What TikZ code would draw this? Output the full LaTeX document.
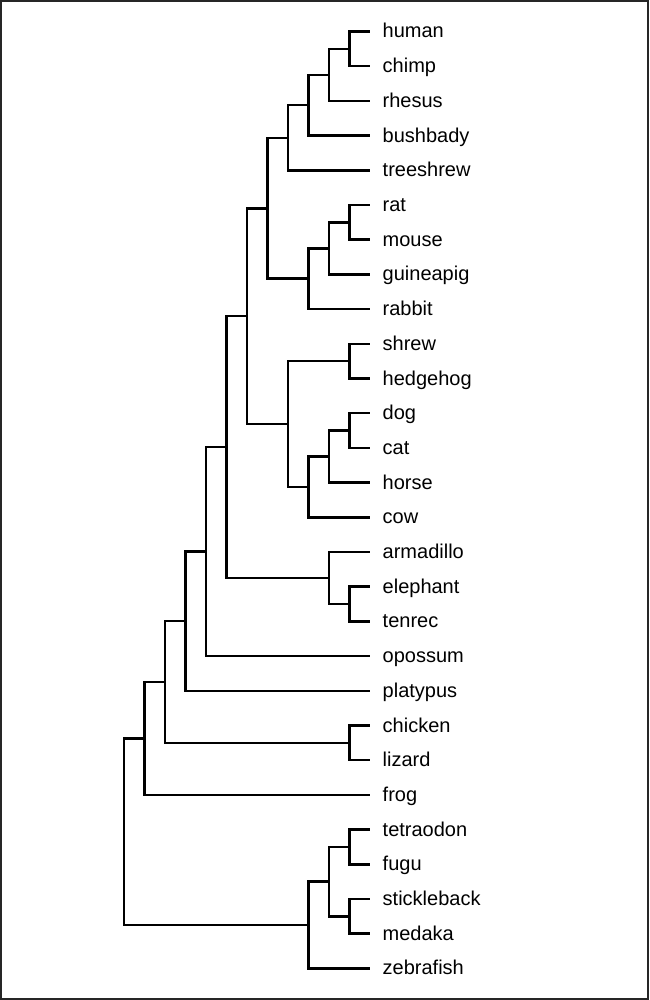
\documentclass[tikz,border=0pt]{standalone}
\usepackage{fontspec}
\setmainfont{Liberation Sans}
\usetikzlibrary{calc}
\tikzset{
  branch/.style={line width=2.5pt, draw=black, line join=miter},
  leaflabel/.style={anchor=base west, inner sep=0pt, font=\fontsize{20pt}{24pt}\selectfont, text=black},
  frame/.style={line width=2pt, draw=black!85}
}
\newcommand\leafy[1]{\fpeval{-(31.5+34.7*#1)}}
\newcommand\mkleaf[2]{%
  \coordinate (#1) at (370pt,{\leafy{#2}*1pt});
  \node[leaflabel] (lab-#1) at (382.5pt,{(\leafy{#2}-6.5)*1pt}) {#1};
}
\newcommand\clade[4]{%
  \path let \p1=($(#3)!0.5!(#4)$) in ({(370-20.5*#2)*1pt},\y1) coordinate (#1);
  \draw[branch] (#1) |- (#3);
  \draw[branch] (#1) |- (#4);
}
\begin{document}
\begin{tikzpicture}
\useasboundingbox (0pt,0pt) rectangle (649pt,-1000pt);
\draw[frame] (1pt,-1pt) rectangle (648pt,-999pt);
\mkleaf{human}{0}
\mkleaf{chimp}{1}
\mkleaf{rhesus}{2}
\mkleaf{bushbady}{3}
\mkleaf{treeshrew}{4}
\mkleaf{rat}{5}
\mkleaf{mouse}{6}
\mkleaf{guineapig}{7}
\mkleaf{rabbit}{8}
\mkleaf{shrew}{9}
\mkleaf{hedgehog}{10}
\mkleaf{dog}{11}
\mkleaf{cat}{12}
\mkleaf{horse}{13}
\mkleaf{cow}{14}
\mkleaf{armadillo}{15}
\mkleaf{elephant}{16}
\mkleaf{tenrec}{17}
\mkleaf{opossum}{18}
\mkleaf{platypus}{19}
\mkleaf{chicken}{20}
\mkleaf{lizard}{21}
\mkleaf{frog}{22}
\mkleaf{tetraodon}{23}
\mkleaf{fugu}{24}
\mkleaf{stickleback}{25}
\mkleaf{medaka}{26}
\mkleaf{zebrafish}{27}
% internal nodes
\clade{hc}{1}{human}{chimp}
\clade{catar}{2}{hc}{rhesus}
\clade{prim}{3}{catar}{bushbady}
\clade{euarA}{4}{prim}{treeshrew}
\clade{rm}{1}{rat}{mouse}
\clade{rmg}{2}{rm}{guineapig}
\clade{glires}{3}{rmg}{rabbit}
\clade{euar}{5}{euarA}{glires}
\clade{sh}{1}{shrew}{hedgehog}
\clade{dc}{1}{dog}{cat}
\clade{dch}{2}{dc}{horse}
\clade{dchc}{3}{dch}{cow}
\clade{laur}{4}{sh}{dchc}
\clade{bor}{6}{euar}{laur}
\clade{et}{1}{elephant}{tenrec}
\clade{atl}{2}{armadillo}{et}
\clade{euth}{7}{bor}{atl}
\clade{ther}{8}{euth}{opossum}
\clade{mamm}{9}{ther}{platypus}
\clade{cl}{1}{chicken}{lizard}
\clade{amn}{10}{mamm}{cl}
\clade{tetp}{11}{amn}{frog}
\clade{tf}{1}{tetraodon}{fugu}
\clade{sm}{1}{stickleback}{medaka}
\clade{tfsm}{2}{tf}{sm}
\clade{fish}{3}{tfsm}{zebrafish}
\clade{root}{12}{tetp}{fish}
\end{tikzpicture}
\end{document}
